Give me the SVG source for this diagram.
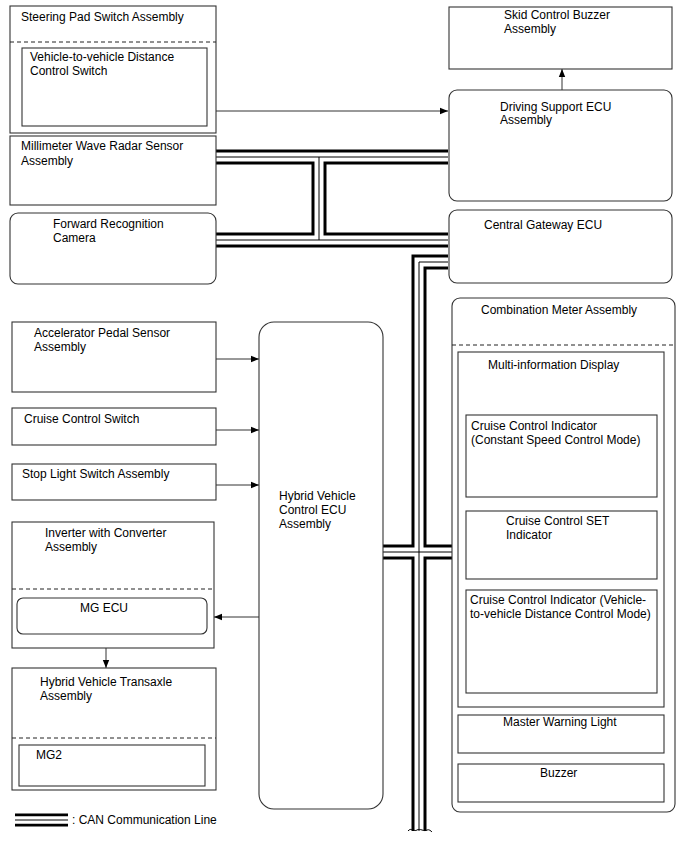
<svg xmlns="http://www.w3.org/2000/svg" width="688" height="852" viewBox="0 0 688 852">
<defs>
<marker id="ah" markerUnits="userSpaceOnUse" markerWidth="8" markerHeight="8" viewBox="0 0 8 8" refX="8" refY="4" orient="auto">
<path d="M0,0.8 L8,4 L0,7.2 Z" fill="#000"/>
</marker>
<style>
.box{fill:#fff;stroke:#333;stroke-width:1.1}
.dash{stroke:#222;stroke-width:1;stroke-dasharray:4 3;fill:none}
text{font-family:"Liberation Sans",Arial,sans-serif;font-size:12px;fill:#000}
.conn{stroke:#333;stroke-width:1;fill:none;marker-end:url(#ah)}
.busA{stroke:#000;stroke-width:15;fill:none;stroke-linejoin:miter}
.busB{stroke:#fff;stroke-width:9;fill:none;stroke-linejoin:miter}
.busC{stroke:#000;stroke-width:1;fill:none;stroke-linejoin:miter}
</style>
</defs>
<rect width="688" height="852" fill="#fff"/>

<g id="connectors">
<g id="can-bus">
<path class="busA" d="M216,157 H448 M216,240 H448 M319,157 V240 M448,262 H419 V831 M383,552 H452"/>
<path class="busB" d="M216,157 H448 M216,240 H448 M319,157 V240 M448,262 H419 V831 M383,552 H452"/>
<path class="busC" d="M216,157 H448 M216,240 H448 M319,157 V240 M448,262 H419 V831 M383,552 H452"/>
<path d="M408,831 C411,827 414,832 417,830 C420,828 424,832 427,830 C429,829 431,831 432,832" stroke="#000" stroke-width="1" fill="none"/>
</g>
<path class="conn" d="M207,111 H448"/>
<path class="conn" d="M562,90 V69"/>
<path class="conn" d="M216,359 H259"/>
<path class="conn" d="M216,430 H259"/>
<path class="conn" d="M216,485 H259"/>
<path class="conn" d="M259,617 H214"/>
<path class="conn" d="M106,648 V668"/>
</g>

<g id="steering-pad">
<rect class="box" x="10" y="6" width="206" height="127"/>
<line class="dash" x1="10" y1="42" x2="216" y2="42"/>
<text x="21" y="21">Steering Pad Switch Assembly</text>
</g>
<g id="distance-switch">
<rect class="box" x="22" y="48" width="185" height="78"/>
<text x="30" y="61">Vehicle-to-vehicle Distance</text>
<text x="30" y="75">Control Switch</text>
</g>
<g id="radar">
<rect class="box" x="10" y="136" width="206" height="69"/>
<text x="21" y="150">Millimeter Wave Radar Sensor</text>
<text x="21" y="165">Assembly</text>
</g>
<g id="camera">
<rect class="box" x="10" y="213" width="206" height="71" rx="8"/>
<text x="53" y="228">Forward Recognition</text>
<text x="53" y="242">Camera</text>
</g>
<g id="skid-buzzer">
<rect class="box" x="449" y="7" width="223" height="62"/>
<text x="504" y="19">Skid Control Buzzer</text>
<text x="504" y="33">Assembly</text>
</g>
<g id="driving-support">
<rect class="box" x="449" y="90" width="223" height="111" rx="8"/>
<text x="500" y="111">Driving Support ECU</text>
<text x="500" y="124">Assembly</text>
</g>
<g id="gateway">
<rect class="box" x="449" y="210" width="223" height="73" rx="8"/>
<text x="484" y="229">Central Gateway ECU</text>
</g>
<g id="combination-meter">
<rect class="box" x="452" y="298" width="223" height="514" rx="8"/>
<line class="dash" x1="452" y1="345" x2="675" y2="345"/>
<text x="481" y="314">Combination Meter Assembly</text>
</g>
<g id="multi-display">
<rect class="box" x="458" y="352" width="206" height="355"/>
<text x="488" y="369">Multi-information Display</text>
</g>
<g id="cci-constant">
<rect class="box" x="466" y="415" width="191" height="82"/>
<text x="471" y="430">Cruise Control Indicator</text>
<text x="471" y="444">(Constant Speed Control Mode)</text>
</g>
<g id="cc-set">
<rect class="box" x="466" y="511" width="191" height="68"/>
<text x="506" y="525">Cruise Control SET</text>
<text x="506" y="539">Indicator</text>
</g>
<g id="cci-distance">
<rect class="box" x="466" y="590" width="191" height="103"/>
<text x="470" y="604">Cruise Control Indicator (Vehicle-</text>
<text x="470" y="618">to-vehicle Distance Control Mode)</text>
</g>
<g id="master-warning">
<rect class="box" x="458" y="715" width="206" height="38"/>
<text x="503" y="726">Master Warning Light</text>
</g>
<g id="buzzer">
<rect class="box" x="458" y="764" width="206" height="38"/>
<text x="540" y="777">Buzzer</text>
</g>
<g id="hybrid-ecu">
<rect class="box" x="259" y="322" width="124" height="487" rx="15"/>
<text x="279" y="500">Hybrid Vehicle</text>
<text x="279" y="514">Control ECU</text>
<text x="279" y="528">Assembly</text>
</g>
<g id="accelerator">
<rect class="box" x="12" y="322" width="204" height="70"/>
<text x="34" y="337">Accelerator Pedal Sensor</text>
<text x="34" y="351">Assembly</text>
</g>
<g id="cruise-switch">
<rect class="box" x="12" y="408" width="204" height="37"/>
<text x="24" y="423">Cruise Control Switch</text>
</g>
<g id="stop-light">
<rect class="box" x="12" y="464" width="204" height="36"/>
<text x="22" y="478">Stop Light Switch Assembly</text>
</g>
<g id="inverter">
<rect class="box" x="12" y="522" width="202" height="126"/>
<line class="dash" x1="12" y1="589" x2="214" y2="589"/>
<text x="45" y="537">Inverter with Converter</text>
<text x="45" y="551">Assembly</text>
</g>
<g id="mg-ecu">
<rect class="box" x="17" y="598" width="190" height="36" rx="6"/>
<text x="80" y="612">MG ECU</text>
</g>
<g id="transaxle">
<rect class="box" x="12" y="668" width="204" height="122"/>
<line class="dash" x1="12" y1="738" x2="216" y2="738"/>
<text x="40" y="686">Hybrid Vehicle Transaxle</text>
<text x="40" y="700">Assembly</text>
</g>
<g id="mg2">
<rect class="box" x="19" y="745" width="186" height="41"/>
<text x="36" y="759">MG2</text>
</g>

<g id="legend">
<line x1="15" y1="820" x2="68" y2="820" stroke="#000" stroke-width="13"/>
<line x1="15" y1="820" x2="68" y2="820" stroke="#fff" stroke-width="7.5"/>
<line x1="15" y1="820" x2="68" y2="820" stroke="#000" stroke-width="1"/>
<text x="72" y="824">: CAN Communication Line</text>
</g>
</svg>
